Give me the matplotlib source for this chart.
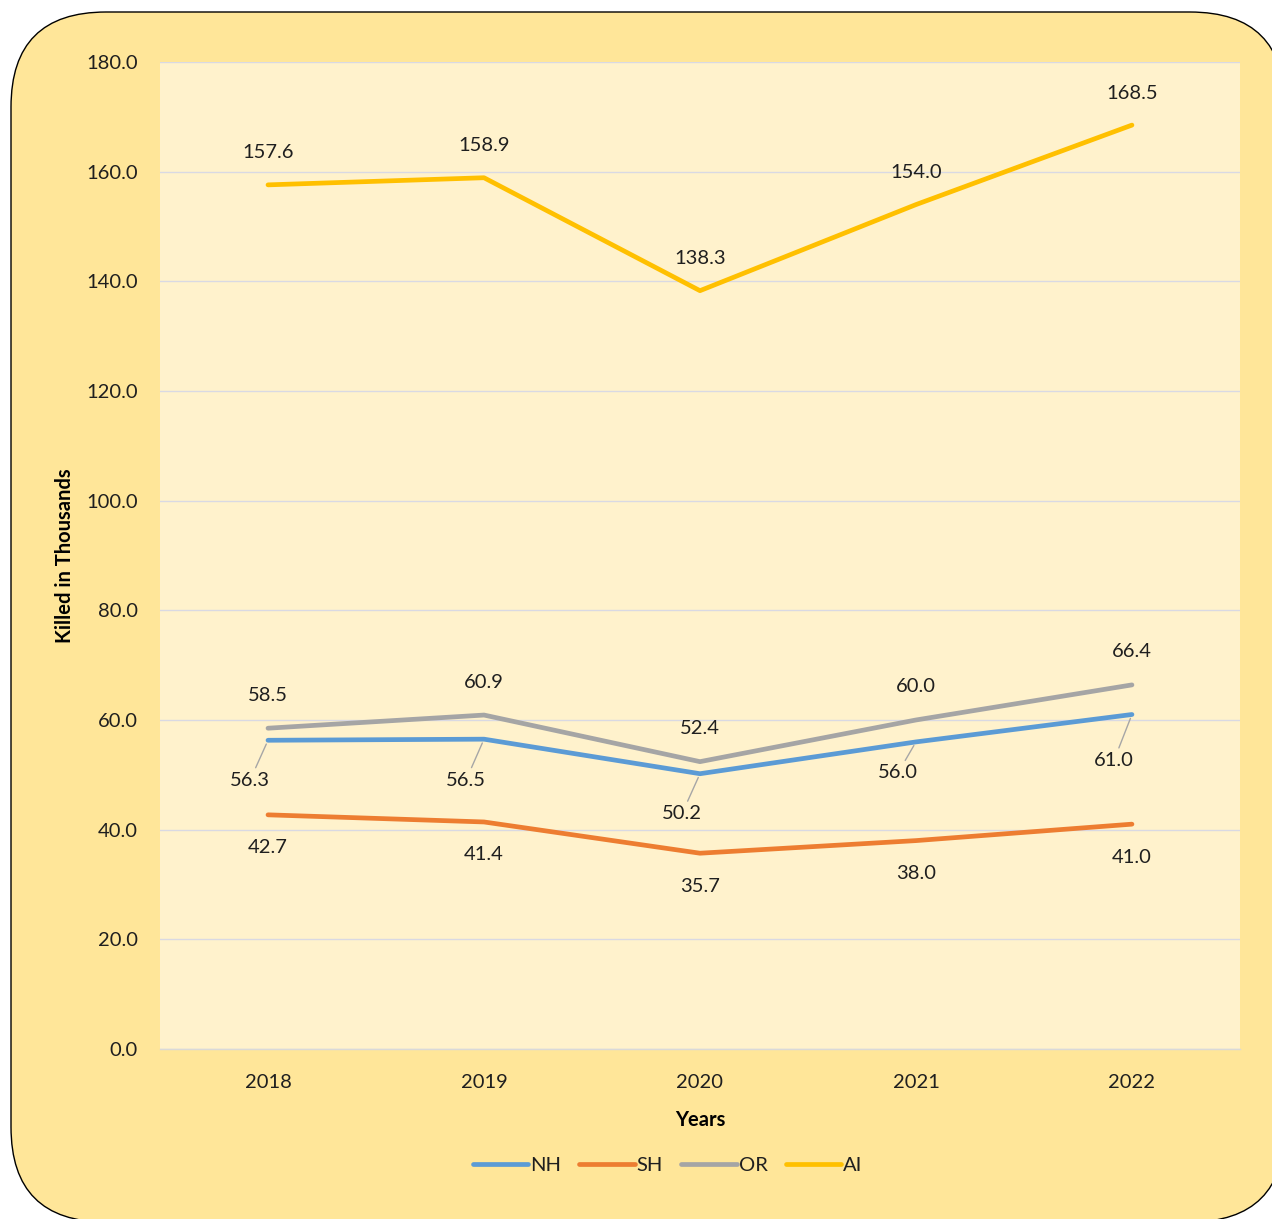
import matplotlib
matplotlib.use("Agg")
import matplotlib.pyplot as plt
from matplotlib.patches import FancyBboxPatch

plt.rcParams['font.family'] = ['Lato', 'DejaVu Sans']

years = ['2018', '2019', '2020', '2021', '2022']
NH = [56.3, 56.5, 50.2, 56.0, 61.0]
SH = [42.7, 41.4, 35.7, 38.0, 41.0]
OR = [58.5, 60.9, 52.4, 60.0, 66.4]
AI = [157.6, 158.9, 138.3, 154.0, 168.5]

series = [('NH', NH, '#5B9BD5'), ('SH', SH, '#ED7D31'),
          ('OR', OR, '#A5A5A5'), ('AI', AI, '#FFC000')]

# label offsets in pixels (dx, dy) for each series
offsets = {
    'NH': [(-18, -40), (-18, -41), (-18, -40), (-18, -31), (-18, -46)],
    'SH': [(0, -33)] * 5,
    'OR': [(0, 33)] * 5,
    'AI': [(0, 32)] * 5,
}
leaders = {'NH'}

FS = 14.5
fig = plt.figure(figsize=(12.72, 12.19), dpi=100)
fig.patch.set_facecolor('white')

# rounded background panel, partly cut off right and bottom
box = FancyBboxPatch((0.11, -0.03), 12.74, 12.10,
                     boxstyle="round,pad=0,rounding_size=0.95",
                     transform=fig.dpi_scale_trans,
                     facecolor='#FFE699', edgecolor='black', linewidth=1.0,
                     zorder=-5)
fig.patches.append(box)

ax = fig.add_axes([0.1258, 0.1395, 0.849, 0.8096])
ax.set_facecolor('#FFF2CC')
x = list(range(len(years)))

for name, vals, col in series:
    ax.plot(x, vals, color=col, linewidth=3.4, label=name,
            solid_capstyle='round', zorder=3)
    for i, v in enumerate(vals):
        dx, dy = offsets[name][i]
        kw = {}
        if name in leaders:
            kw['arrowprops'] = dict(arrowstyle='-', color='#A6A6A6', lw=1.0,
                                    shrinkA=1, shrinkB=3)
        ax.annotate('%.1f' % v, (i, v), xytext=(dx, dy),
                    textcoords='offset pixels', ha='center', va='center',
                    fontsize=FS, color='#1F1F1F', zorder=4, **kw)

ax.set_xlim(-0.5, len(years) - 0.5)
ax.set_ylim(0, 180)
ax.set_yticks(range(0, 181, 20))
ax.set_yticklabels(['%.1f' % t for t in range(0, 181, 20)])
ax.set_xticks(x)
ax.set_xticklabels(years)
ax.tick_params(axis='both', length=0, labelsize=FS, colors='#1F1F1F')
ax.tick_params(axis='y', pad=16)
ax.tick_params(axis='x', pad=18)
ax.grid(axis='y', color='#D9D9E3', linewidth=1.0)
ax.set_axisbelow(True)
for s in ['top', 'right', 'left']:
    ax.spines[s].set_visible(False)
ax.spines['bottom'].set_color('#D9D9D9')
ax.spines['bottom'].set_linewidth(1.0)

ax.set_ylabel('Killed in Thousands', fontsize=FS, fontweight='bold',
              color='black', labelpad=8)
ax.set_xlabel('Years', fontsize=FS, fontweight='bold', color='black',
              labelpad=14)

leg = ax.legend(loc='center', bbox_to_anchor=(0.47, -0.118), ncol=4,
                frameon=False, fontsize=FS, handlelength=2.75,
                handletextpad=0.1, columnspacing=0.9)
for t in leg.get_texts():
    t.set_color('#1F1F1F')

fig.savefig('out.png', dpi=100)
